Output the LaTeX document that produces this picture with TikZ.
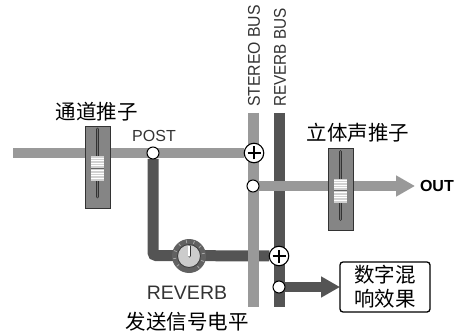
\documentclass[tikz,border=0pt]{standalone}
\usepackage{fontspec}
\setmainfont{Liberation Sans}
\newfontfamily\cjk{Noto Sans CJK SC}
\usepackage{xcolor}
\usetikzlibrary{arrows.meta,backgrounds}
\definecolor{busgray}{gray}{0.6}
\definecolor{busdark}{gray}{0.33}

\begin{document}
\begin{tikzpicture}[x=1pt, y=-1pt,
	every node/.style={inner sep=0pt, outer sep=0pt},
	stereoline/.style={line width=10.5pt, busgray},
	reverbline/.style={line width=11pt, busdark},
	tap/.style={draw, circle, fill=white, line width=1pt, minimum size=12pt},
	sum/.style={draw, circle, fill=white, line width=1.1pt, minimum size=19.5pt},
	fader/.style={draw=black!80, line width=0.8pt, fill=black!48, minimum width=25pt, minimum height=82pt},
	cjklabel/.style={font=\cjk\fontsize{20.5}{24}\selectfont},
	buslabel/.style={font=\fontsize{17}{17}\selectfont, rotate=90, text=black!80}]
	\useasboundingbox (0,0) rectangle (457,331);
	\node[tap] (P) at (153,153) {};
	\node[sum] (S) at (254,153) {};
	\node[tap] (T) at (253,186) {};
	\node[sum] (R) at (279,256) {};
	\node[tap] (U) at (279,287) {};
	\node[draw, rounded corners=3pt, line width=1.3pt, minimum width=90pt, minimum height=50pt, align=center, font=\cjk\fontsize{20.5}{24}\selectfont, fill=white] (E) at (385,287) {数字混\\响效果};
	\node[fader] (F1) at (97.5,167) {};
	\node[fader] (F2) at (340.5,189.5) {};
	\node[circle, fill=black!62, minimum size=34pt] (K) at (189,256) {};
	\coordinate (I) at (13,153);
	\coordinate (O) at (415,186);
	\coordinate (C) at (153,255.5);
	\coordinate (A1) at (253.5,113);
	\coordinate (A2) at (253.5,307);
	\coordinate (B1) at (279.5,113);
	\coordinate (B2) at (279.5,307);
	\begin{scope}[on background layer]
		\draw[reverbline] (B1) -- (B2);
		\draw[reverbline, rounded corners=3pt] (P) -- (C) -- (R);
		\draw[stereoline] (A1) -- (A2);
		\draw[stereoline] (I) -- (S);
		\draw[stereoline, -{Triangle[length=19pt, width=20pt]}] (T) -- (O);
		\draw[reverbline, line width=10pt, -{Triangle[length=19pt, width=20pt]}] (U) -- (E.west);
	\end{scope}
	% plus signs
	\foreach \busnode in {S,R} {
		\draw[line width=1.1pt] ([xshift=-6.5pt]\busnode.center) -- ([xshift=6.5pt]\busnode.center);
		\draw[line width=1.1pt] ([yshift=-6.5pt]\busnode.center) -- ([yshift=6.5pt]\busnode.center);
	}
	% fader slots and caps
	\foreach \capx/\capy/\sloty in {97.5/168.5/163, 340.5/190.5/185.5} {
		\draw[line width=2.8pt, black!80, line cap=round] (\capx,\sloty-34) -- (\capx,\sloty+34);
		\draw[line width=1pt, black!55, line cap=round] (\capx,\sloty-34) -- (\capx,\sloty+34);
		\fill[black!18] (\capx-6.5,\capy-12) rectangle (\capx+6.5,\capy+12);
		\foreach \n in {-10.5,-8,...,11} {
			\draw[white, line width=0.8pt] (\capx-6.5,\capy+\n) -- (\capx+6.5,\capy+\n);
		}
		\draw[black!60, line width=0.8pt] (\capx-6.5,\capy-0.5) -- (\capx+6.5,\capy-0.5);
	}
	% knob
	\foreach \a in {-140,-110,...,140} {
		\draw[black!35, line width=0.8pt] ([shift={(\a+90:13pt)}]K.center) -- ([shift={(\a+90:16pt)}]K.center);
	}
	\node[circle, fill=black!20, draw=black!75, line width=0.9pt, minimum size=23pt] (K1) at (K) {};
	\draw[black!80, line width=3pt, line cap=round] (K.center) -- ([yshift=10pt]K.center);
	\draw[white, line width=1.4pt, line cap=round] (K.center) -- ([yshift=10pt]K.center);
	% labels
	\node[cjklabel] (L1) at (96.5,112) {通道推子};
	\node[cjklabel] (L2) at (358,133) {立体声推子};
	\node[cjklabel] (L3) at (187,322) {发送信号电平};
	\node[font=\fontsize{16}{16}\selectfont, text=black!80] (L4) at (154,136) {POST};
	\node[font=\fontsize{19.5}{20}\selectfont, text=black!80] (L5) at (187,293) {REVERB};
	\node[buslabel, anchor=west, xscale=0.93] (L6) at (254,107) {STEREO BUS};
	\node[buslabel, anchor=west, xscale=0.9] (L7) at (280,107) {REVERB BUS};
	\node[font=\bfseries\fontsize{16}{16}\selectfont, anchor=west] (L8) at (420,186) {OUT};
\end{tikzpicture}
\end{document}
